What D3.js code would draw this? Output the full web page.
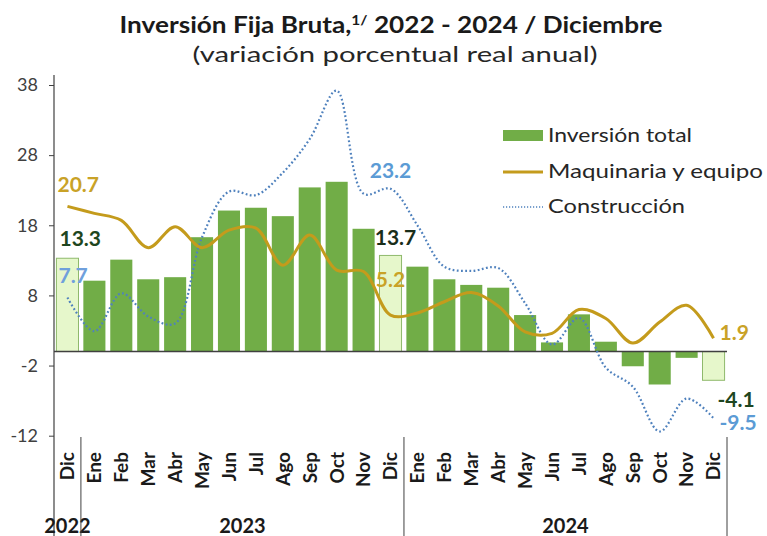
<!DOCTYPE html>
<html>
<head>
<meta charset="utf-8">
<script src="https://cdn.jsdelivr.net/npm/d3@7"></script>
<style>
    html, body { margin: 0; padding: 0; background: #fff; }
    svg { display: block; }
</style>
</head>
<body>
<div id="viz-container"></div>
<script>
// Month labels (Dic 2022 - Dic 2024)
const MONTHS = [
    "Dic",
    "Ene", "Feb", "Mar", "Abr", "May", "Jun", "Jul", "Ago", "Sep", "Oct", "Nov", "Dic",
    "Ene", "Feb", "Mar", "Abr", "May", "Jun", "Jul", "Ago", "Sep", "Oct", "Nov", "Dic"
];
const YEARS = ["2022", "2023", "2024"];
const YEAR_SPANS = [1, 12, 12];

// Series values (variación % real anual)
const INVERSION_TOTAL = [
    13.3,
    10.1, 13.1, 10.3, 10.6, 16.3, 20.1, 20.5, 19.3, 23.4, 24.2, 17.5, 13.7,
    12.1, 10.3, 9.5, 9.1, 5.2, 1.3, 5.3, 1.4, -2.1, -4.7, -0.9, -4.1
];
const MAQUINARIA = [
    20.7,
    19.7, 18.7, 14.8, 17.8, 14.8, 17.3, 17.6, 12.3, 16.6, 11.6, 11.4, 5.2,
    5.5, 7.1, 8.4, 6.5, 2.8, 2.6, 6.0, 4.7, 1.2, 4.2, 6.6, 1.9
];
const CONSTRUCCION = [
    7.7,
    2.9, 8.3, 5.0, 4.0, 16.3, 22.8, 22.3, 25.5, 30.3, 37.2, 22.5, 23.2,
    18.0, 12.1, 11.5, 11.9, 6.9, 1.0, 4.8, -2.3, -5.0, -11.4, -6.7, -9.5
];
const Y_TICKS = [-12, -2, 8, 18, 28, 38];

// Months that get the light "December" bar
const HIGHLIGHT = [0, 12, 24];

const width = 767, height = 536;
const font = "'Century Gothic', 'Lato', 'DejaVu Sans', sans-serif";

// plain hyphen instead of d3's unicode minus
const fmt1 = v => v.toFixed(1);

const svg = d3.select("#viz-container").append("svg")
    .attr("width", width)
    .attr("height", height)
    .style("font-family", font);

svg.append("rect").attr("width", width).attr("height", height).attr("fill", "#fff");

const idx = d3.range(MONTHS.length);

// Scales
const x = d3.scaleBand()
    .domain(idx)
    .range([54, 727])
    .paddingInner(0.18)
    .paddingOuter(0.09);

const y = d3.scaleLinear()
    .domain([-12, 38])
    .range([435.7, 85]);

const cx = i => x(i) + x.bandwidth() / 2;
const step = x.step();

// Title
const title = svg.append("text")
    .attr("x", 391)
    .attr("y", 33)
    .attr("text-anchor", "middle")
    .attr("textLength", 543)
    .attr("lengthAdjust", "spacingAndGlyphs")
    .style("font-size", "22px")
    .style("font-weight", "bold")
    .style("fill", "#1a1a1a");
title.append("tspan").text("Inversión Fija Bruta,");
title.append("tspan").attr("dy", -8).style("font-size", "13px").text("1/");
title.append("tspan").attr("dy", 8).text(" 2022 - 2024 / Diciembre");

svg.append("text")
    .attr("x", 395)
    .attr("y", 62)
    .attr("text-anchor", "middle")
    .attr("textLength", 405)
    .attr("lengthAdjust", "spacingAndGlyphs")
    .style("font-size", "21px")
    .style("fill", "#262626")
    .text("(variación porcentual real anual)");

// Y axis
const yAxis = svg.append("g")
    .attr("transform", "translate(54,0)")
    .call(d3.axisLeft(y)
        .tickValues(Y_TICKS)
        .tickFormat(d => String(d))
        .tickSize(5)
        .tickPadding(11));
yAxis.select(".domain").remove();
yAxis.selectAll("line").style("stroke", "#404040");
yAxis.selectAll("text")
    .style("font-family", font)
    .style("font-size", "18px")
    .style("fill", "#404040");

svg.append("line")
    .attr("x1", 54).attr("x2", 54)
    .attr("y1", 75).attr("y2", 536)
    .attr("stroke", "#404040")
    .attr("stroke-width", 1.2);

// Bars
svg.selectAll(".bar")
    .data(idx)
    .enter()
    .append("rect")
    .attr("class", "bar")
    .attr("x", i => x(i))
    .attr("width", x.bandwidth())
    .attr("y", i => y(Math.max(0, INVERSION_TOTAL[i])))
    .attr("height", i => Math.abs(y(INVERSION_TOTAL[i]) - y(0)))
    .attr("fill", i => HIGHLIGHT.includes(i) ? "#e6f7cb" : "#71ad47")
    .attr("stroke", i => HIGHLIGHT.includes(i) ? "#8fb96c" : "none")
    .attr("stroke-width", 1);

// Zero line
svg.append("line")
    .attr("x1", 54).attr("x2", 727)
    .attr("y1", y(0)).attr("y2", y(0))
    .attr("stroke", "#404040")
    .attr("stroke-width", 1.5);

// Lines
const line = data => d3.line()
    .x((d, i) => cx(i))
    .y(d => y(d))
    .curve(d3.curveCatmullRom.alpha(0.5))(data);

svg.append("path")
    .attr("d", line(CONSTRUCCION))
    .attr("fill", "none")
    .attr("stroke", "#4f81bd")
    .attr("stroke-width", 2.2)
    .attr("stroke-dasharray", "1.8,2.4");

svg.append("path")
    .attr("d", line(MAQUINARIA))
    .attr("fill", "none")
    .attr("stroke", "#c49b1c")
    .attr("stroke-width", 3);

// Data labels
const labels = [
    { v: MAQUINARIA, i: 0, color: "#c9a227", anchor: "start", dx: -10, dy: -14 },
    { v: INVERSION_TOTAL, i: 0, color: "#1e4620", anchor: "start", dx: -8, dy: -12 },
    { v: CONSTRUCCION, i: 0, color: "#6fa0dc", anchor: "start", dx: -9, dy: -14.5 },
    { v: CONSTRUCCION, i: 12, color: "#5b9bd5", anchor: "middle", dx: 0, dy: -11 },
    { v: INVERSION_TOTAL, i: 12, color: "#1a2e1a", anchor: "middle", dx: 5, dy: -10 },
    { v: MAQUINARIA, i: 12, color: "#c9a227", anchor: "middle", dx: 0, dy: -28 },
    { v: MAQUINARIA, i: 24, color: "#c9a227", anchor: "start", dx: 6, dy: 2 },
    { v: INVERSION_TOTAL, i: 24, color: "#1e4620", anchor: "start", dx: 4, dy: 27 },
    { v: CONSTRUCCION, i: 24, color: "#5b9bd5", anchor: "start", dx: 6, dy: 12 }
];

svg.selectAll(".dlabel")
    .data(labels)
    .enter()
    .append("text")
    .attr("class", "dlabel")
    .attr("x", d => cx(d.i) + d.dx)
    .attr("y", d => y(d.v[d.i]) + d.dy)
    .attr("text-anchor", d => d.anchor)
    .style("font-size", "21px")
    .style("font-weight", "bold")
    .style("fill", d => d.color)
    .text(d => fmt1(d.v[d.i]));

// Legend
const legend = svg.append("g").attr("transform", "translate(503,0)");

legend.append("rect")
    .attr("x", 0).attr("y", 130)
    .attr("width", 40).attr("height", 11)
    .attr("fill", "#71ad47");
legend.append("line")
    .attr("x1", 0).attr("x2", 40)
    .attr("y1", 172).attr("y2", 172)
    .attr("stroke", "#c49b1c")
    .attr("stroke-width", 3);
legend.append("line")
    .attr("x1", 0).attr("x2", 40)
    .attr("y1", 207).attr("y2", 207)
    .attr("stroke", "#4f81bd")
    .attr("stroke-width", 1.5)
    .attr("stroke-dasharray", "1.2,1.8");

[["Inversión total", 142, 144], ["Maquinaria y equipo", 178, 215], ["Construcción", 213, 137]]
    .forEach(([t, ty, len]) => {
        legend.append("text")
            .attr("x", 45)
            .attr("y", ty)
            .attr("textLength", len)
            .attr("lengthAdjust", "spacingAndGlyphs")
            .style("font-size", "19px")
            .style("fill", "#262626")
            .text(t);
    });

// Month labels
svg.selectAll(".month")
    .data(idx)
    .enter()
    .append("text")
    .attr("class", "month")
    .attr("transform", i => `translate(${cx(i)},452) rotate(-90)`)
    .attr("text-anchor", "end")
    .attr("dy", "0.36em")
    .style("font-size", "19px")
    .style("font-weight", "bold")
    .style("fill", "#1a1a1a")
    .text(i => MONTHS[i]);

// Year labels and group separators
let start = 0;
YEARS.forEach((yr, k) => {
    const n = YEAR_SPANS[k];
    const x0 = x(start) - (step - x.bandwidth()) / 2;
    const x1 = x0 + n * step;
    svg.append("text")
        .attr("x", (x0 + x1) / 2)
        .attr("y", 533)
        .attr("text-anchor", "middle")
        .style("font-size", "20px")
        .style("font-weight", "bold")
        .style("fill", "#1a1a1a")
        .text(yr);
    svg.append("line")
        .attr("x1", x1).attr("x2", x1)
        .attr("y1", 437).attr("y2", 536)
        .attr("stroke", "#404040")
        .attr("stroke-width", 1);
    start += n;
});
</script>
</body>
</html>
